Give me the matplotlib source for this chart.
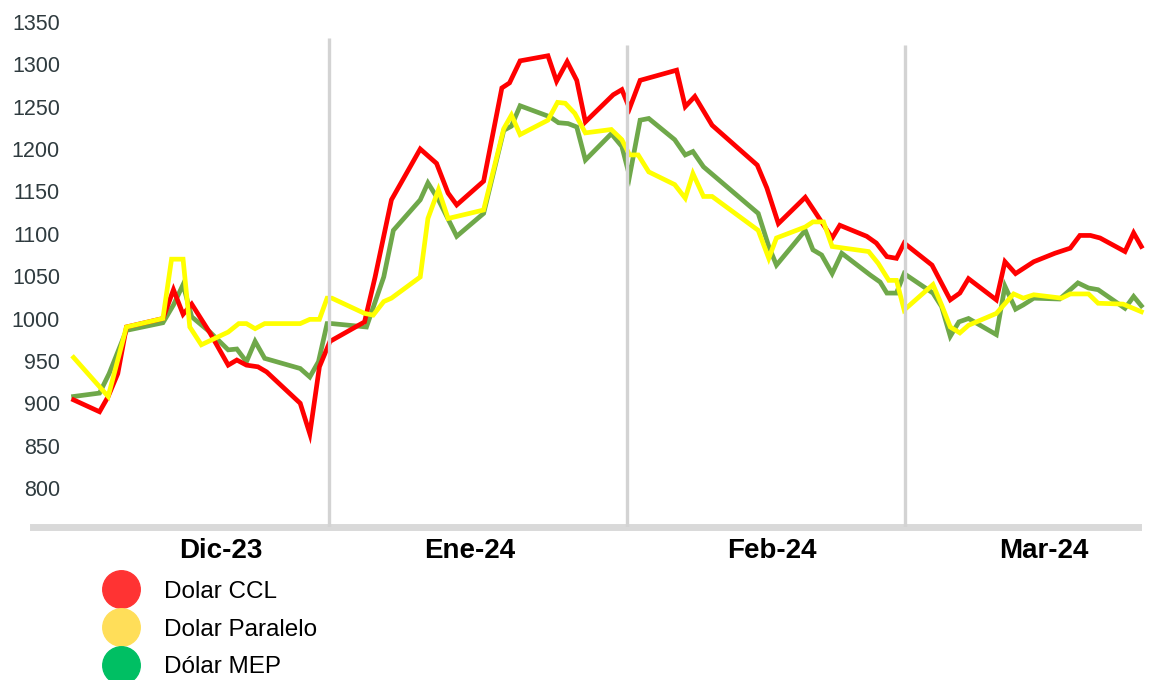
import datetime as dt
import numpy as np
import matplotlib
matplotlib.use("Agg")
import matplotlib.pyplot as plt
import matplotlib.dates as mdates
from matplotlib.lines import Line2D

plt.rcParams["font.family"] = ["Liberation Sans", "DejaVu Sans"]

# dias desde el 1-dic-2023 y cotizacion en pesos
dias_ccl = [4.4, 7.1, 8.0, 9.0, 9.9, 13.7, 14.8, 15.8, 16.7, 18.6, 20.5, 21.4, 22.4, 23.6, 24.5,
            28.0, 29.0, 30.0, 31.1, 34.7, 35.8, 37.5, 40.5, 42.2, 43.4, 44.3, 47.1, 49.0, 49.8,
            50.9, 53.8, 54.7, 55.8, 56.8, 57.7, 60.6, 61.5, 62.3, 63.4, 67.2, 68.1, 69.1, 70.9,
            75.6, 76.6, 77.8, 80.6, 81.6, 83.4, 84.2, 87.0, 88.0, 89.1, 90.1, 90.9, 93.8, 95.7,
            96.7, 97.6, 100.5, 101.4, 102.5, 104.4, 106.6, 108.2, 109.2, 110.3, 111.3, 113.9,
            114.8, 115.6]
ccl = [904, 890, 908, 935, 990, 1000, 1034, 1005, 1017, 983, 945, 951, 945, 943, 937,
       900, 864, 943, 973, 996, 1049, 1140, 1200, 1183, 1148, 1134, 1162, 1272, 1278,
       1304, 1310, 1280, 1303, 1281, 1232, 1264, 1270, 1248, 1281, 1293, 1250, 1262, 1228,
       1181, 1154, 1112, 1143, 1126, 1095, 1110, 1097, 1089, 1073, 1071, 1089, 1063, 1022,
       1030, 1047, 1022, 1067, 1053, 1067, 1077, 1083, 1098, 1098, 1095, 1079,
       1101, 1085]

dias_mep = [4.4, 7.1, 8.1, 9.9, 13.7, 14.8, 15.8, 16.7, 18.6, 20.5, 21.4, 22.4, 23.3, 24.3,
            28.0, 29.0, 29.9, 30.8, 31.3, 34.9, 36.7, 37.7, 40.5, 41.3, 42.4, 44.3, 47.1,
            49.2, 50.0, 50.9, 54.0, 54.9, 55.9, 56.8, 57.7, 60.4, 61.5, 62.3, 63.4, 64.3,
            67.0, 68.1, 68.9, 70.0, 75.7, 76.8, 77.6, 80.6, 81.4, 82.3, 83.4, 84.4, 87.4,
            88.4, 89.1, 90.1, 90.9, 93.9, 94.8, 95.7, 96.6, 97.6, 100.5, 101.4, 102.5, 103.3,
            104.4, 107.1, 109.0, 110.1, 111.1, 113.9, 114.8, 115.6]
mep = [908, 912, 935, 986, 995, 1016, 1040, 1002, 984, 963, 964, 949, 973, 953,
       941, 931, 949, 994, 994, 990, 1049, 1104, 1140, 1160, 1140, 1097, 1124,
       1222, 1227, 1251, 1238, 1231, 1230, 1226, 1187, 1218, 1203, 1168, 1234, 1236,
       1211, 1193, 1197, 1179, 1124, 1085, 1063, 1104, 1081, 1075, 1053, 1077, 1051,
       1043, 1030, 1030, 1053, 1030, 1014, 979, 996, 1000, 981, 1038, 1011, 1016,
       1024, 1023, 1042, 1036, 1034, 1012, 1026, 1015]

dias_par = [4.4, 8.0, 9.9, 13.7, 14.6, 15.8, 16.5, 17.7, 20.5, 21.6, 22.4, 23.3, 24.3, 28.0,
            29.0, 30.0, 30.8, 31.3, 34.7, 35.6, 36.7, 37.5, 40.5, 41.3, 42.4, 43.4, 47.1,
            49.2, 50.0, 50.9, 53.8, 54.8, 55.6, 56.6, 57.7, 60.4, 61.5, 62.3, 63.2, 64.3,
            67.0, 68.1, 68.9, 70.0, 70.9, 75.7, 76.8, 77.6, 80.6, 81.4, 82.5, 83.4, 87.2,
            88.2, 89.3, 90.1, 90.9, 93.9, 94.8, 95.7, 96.7, 97.6, 100.5, 102.3, 103.3, 104.4,
            107.3, 108.2, 110.1, 111.1, 113.7, 115.6]
paralelo = [954, 908, 990, 1000, 1070, 1070, 990, 969, 984, 994, 994, 988, 994, 994,
            999, 999, 1024, 1024, 1006, 1004, 1020, 1024, 1049, 1118, 1152, 1118, 1128,
            1224, 1240, 1217, 1234, 1255, 1254, 1242, 1219, 1223, 1211, 1193, 1193, 1173,
            1158, 1142, 1171, 1144, 1144, 1104, 1071, 1095, 1108, 1114, 1114, 1085, 1079,
            1065, 1045, 1045, 1010, 1040, 1016, 990, 983, 992, 1006, 1029, 1024, 1028,
            1024, 1029, 1029, 1018, 1017, 1008]

meses = ["Dic-23", "Ene-24", "Feb-24", "Mar-24"]
series = ["Dolar CCL", "Dolar Paralelo", "Dólar MEP"]

inicio = dt.datetime(2023, 12, 1)
base = mdates.date2num(inicio)


def fechas(d):
    return base + np.array(d)


fig = plt.figure(figsize=(11.49, 6.8), dpi=100)
ax = fig.add_axes([33 / 1149, 1 - 527 / 680, (1149 - 33) / 1149, (527 - 10) / 680])

ax.plot(fechas(dias_mep), mep, color="#6FA84A", lw=3.4, solid_joinstyle="miter", zorder=3)
ax.plot(fechas(dias_ccl), ccl, color="#FF0000", lw=3.4, solid_joinstyle="miter", zorder=4)
ax.plot(fechas(dias_par), paralelo, color="#FFFF00", lw=3.4, solid_joinstyle="miter", zorder=5)

# separadores de mes
cortes = [mdates.date2num(dt.datetime(2024, 1, 1)),
          mdates.date2num(dt.datetime(2024, 2, 1)),
          mdates.date2num(dt.datetime(2024, 3, 1))]
ax.vlines(cortes, 754, [1331, 1323, 1323], color="#D3D3D3", lw=2.4, zorder=6)

ax.set_xlim(base + 0.17, base + 116.4)
ax.set_ylim(754, 1364)

for s in ["top", "right", "left"]:
    ax.spines[s].set_visible(False)
ax.spines["bottom"].set_color("#D9D9D9")
ax.spines["bottom"].set_linewidth(5)
ax.spines["bottom"].set_bounds(base + 0.17, base + 115.3)

ax.set_yticks(range(800, 1351, 50))
ax.tick_params(axis="y", length=0, pad=-19.4, labelsize=15.5, labelcolor="#2F3B3F")
ax.set_xticks(base + np.array([19.7, 45.7, 77.1, 105.4]))
ax.set_xticklabels(meses, fontsize=20, fontweight="bold")
ax.tick_params(axis="x", length=0, pad=8)

colores_ley = ["#FF3333", "#FFDE59", "#00BF63"]
handles = [Line2D([], [], marker="o", ls="", ms=27, mfc=c, mec=c) for c in colores_ley]
fig.legend(handles, series, loc="upper left", bbox_to_anchor=(0.076, 0.160),
           frameon=False, fontsize=17.5, handlelength=2, handletextpad=0.75,
           labelspacing=0.64, borderaxespad=0, borderpad=0.4)

fig.savefig("out.png", dpi=100)
